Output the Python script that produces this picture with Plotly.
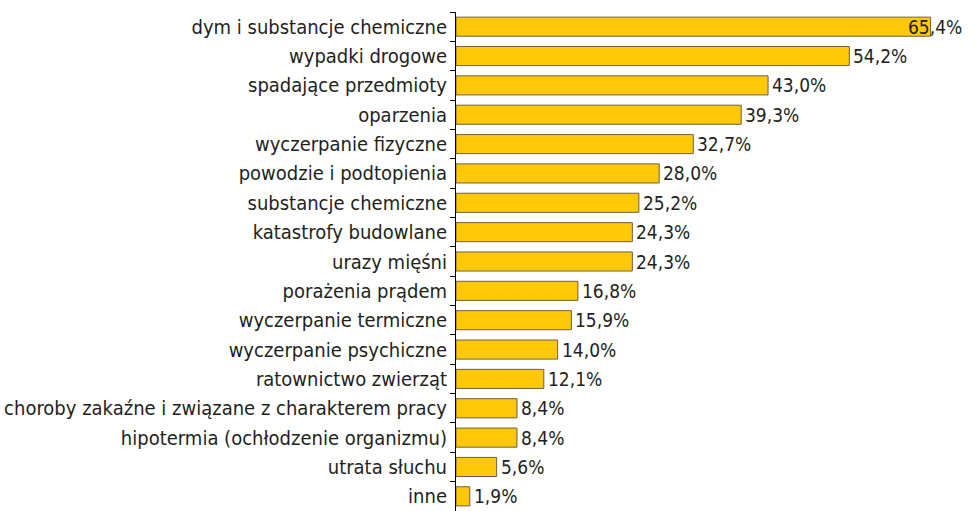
import plotly.graph_objects as go

categories = [
    "dym i substancje chemiczne",
    "wypadki drogowe",
    "spadające przedmioty",
    "oparzenia",
    "wyczerpanie fizyczne",
    "powodzie i podtopienia",
    "substancje chemiczne",
    "katastrofy budowlane",
    "urazy mięśni",
    "porażenia prądem",
    "wyczerpanie termiczne",
    "wyczerpanie psychiczne",
    "ratownictwo zwierząt",
    "choroby zakaźne i związane z charakterem pracy",
    "hipotermia (ochłodzenie organizmu)",
    "utrata słuchu",
    "inne",
]
values = [65.4, 54.2, 43.0, 39.3, 32.7, 28.0, 25.2, 24.3, 24.3, 16.8, 15.9, 14.0, 12.1, 8.4, 8.4, 5.6, 1.9]
value_labels = [f"{v:.1f}".replace(".", ",") + "%" for v in values]

FONT = "Liberation Sans Narrow, DejaVu Sans Condensed, Arial Narrow, sans-serif"
TEXT = "#231f20"

fig = go.Figure(
    go.Bar(
        x=values,
        y=categories,
        orientation="h",
        width=0.65,
        marker=dict(color="#ffc90a", line=dict(color="#6e6040", width=1)),
        hoverinfo="skip",
    )
)

# value labels just right of each bar; the longest one is pulled back over its bar
for i, (cat, v, lab) in enumerate(zip(categories, values, value_labels)):
    fig.add_annotation(
        x=v, y=cat, text=lab, showarrow=False,
        xanchor="left", yanchor="middle",
        xshift=-25 if i == 0 else 2,
        font=dict(family=FONT, size=19, color=TEXT),
    )

fig.update_layout(
    width=976, height=511,
    margin=dict(l=456, r=12, t=12, b=0),
    paper_bgcolor="white", plot_bgcolor="white",
    showlegend=False,
    font=dict(family=FONT, size=20, color=TEXT),
)
fig.update_xaxes(range=[0, 70], visible=False, fixedrange=True)
fig.update_yaxes(
    autorange="reversed",
    showline=True, linecolor="black", linewidth=1,
    ticks="outside", ticklen=5, tickcolor="black", tickson="boundaries",
    showgrid=False, ticklabelstandoff=4,
    tickfont=dict(family=FONT, size=20, color=TEXT),
)

fig.write_html("out.html")
